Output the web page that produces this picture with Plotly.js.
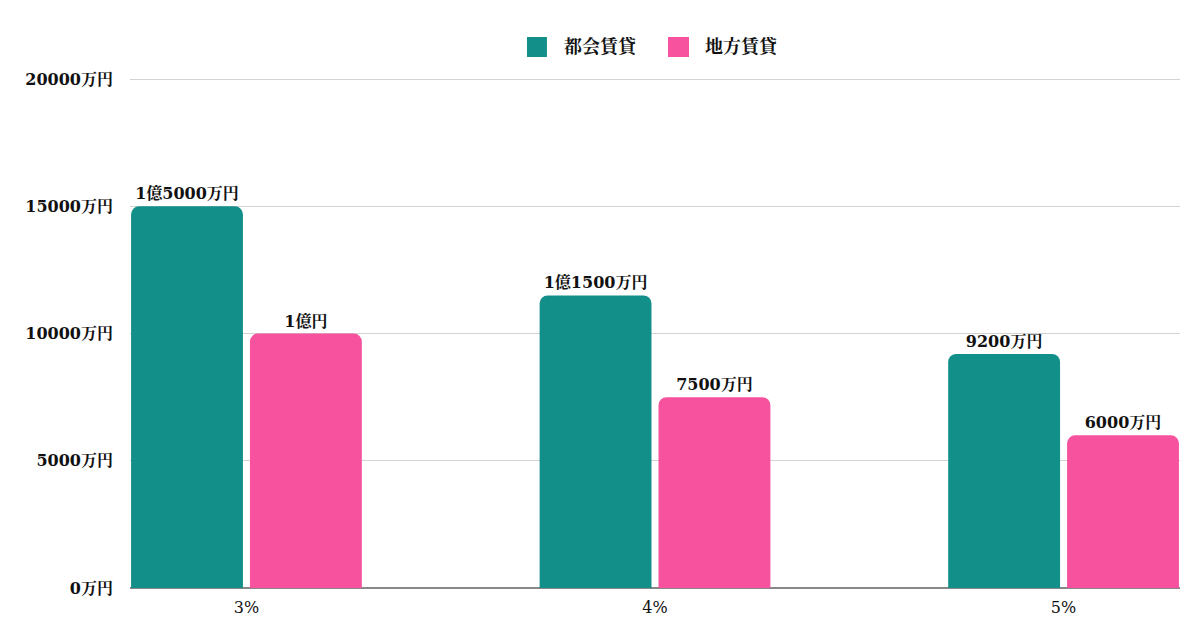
<!DOCTYPE html>
<html>
<head>
<meta charset="utf-8">
<script src="https://cdn.plot.ly/plotly-3.0.1.min.js"></script>
<style>html,body{margin:0;padding:0;background:#fff;}#chart{width:1200px;height:630px;}</style>
</head>
<body>
<div id="chart"></div>
<script>
const categories = ["3%", "4%", "5%"];
const seriesNames = ["都会賃貸", "地方賃貸"];
const seriesColors = ["#138F8A", "#F7529E"];
const urbanValues = [15000, 11500, 9200];
const ruralValues = [10000, 7500, 6000];
const urbanLabels = ["1億5000万円", "1億1500万円", "9200万円"];
const ruralLabels = ["1億円", "7500万円", "6000万円"];
const yTickVals = [0, 5000, 10000, 15000, 20000];
const yTickText = ["0万円", "5000万円", "10000万円", "15000万円", "20000万円"];

const FONT = "'DejaVu Serif', 'Noto Serif CJK JP', 'Noto Sans CJK JP', serif";

const traces = [
  {
    type: "bar", name: seriesNames[0], x: categories, y: urbanValues,
    text: urbanLabels, textposition: "outside", cliponaxis: false,
    textfont: {family: FONT, size: 16, color: "#111", weight: "bold"},
    marker: {color: seriesColors[0]}, hoverinfo: "skip"
  },
  {
    type: "bar", name: seriesNames[1], x: categories, y: ruralValues,
    text: ruralLabels, textposition: "outside", cliponaxis: false,
    textfont: {family: FONT, size: 16, color: "#111", weight: "bold"},
    marker: {color: seriesColors[1]}, hoverinfo: "skip"
  }
];

// custom legend (large square swatches) in paper coordinates
const legendSquares = [[0.3781, 0.3971], [0.5124, 0.5324]];
const legendTextX = [0.4114, 0.5457];
const shapes = legendSquares.map((s, i) => ({
  type: "rect", xref: "paper", yref: "paper",
  x0: s[0], x1: s[1], y0: 1.0412, y1: 1.0804,
  fillcolor: seriesColors[i], line: {width: 0}
}));
const annotations = seriesNames.map((n, i) => ({
  xref: "paper", yref: "paper", x: legendTextX[i], y: 1.0608,
  xanchor: "left", yanchor: "middle", showarrow: false, text: n,
  font: {family: FONT, size: 18, color: "#111", weight: "bold"}
}));

const layout = {
  width: 1200, height: 630,
  margin: {l: 130, r: 20, t: 78, b: 42},
  paper_bgcolor: "#fff", plot_bgcolor: "#fff",
  barmode: "group", bargap: 0.418, bargroupgap: 0.059,
  barcornerradius: 8,
  font: {family: FONT, size: 16, color: "#111"},
  showlegend: false,
  shapes: shapes, annotations: annotations,
  xaxis: {
    type: "category", range: [-0.285, 2.285],
    showgrid: false, zeroline: false, showline: false,
    ticks: "", tickfont: {family: FONT, size: 16, color: "#111"},
    ticklabelstandoff: 8
  },
  yaxis: {
    range: [0, 20045], tickvals: yTickVals, ticktext: yTickText,
    showgrid: true, gridcolor: "#d3d3d3", gridwidth: 1,
    zeroline: true, zerolinecolor: "#888", zerolinewidth: 1.5,
    showline: false, ticks: "",
    tickfont: {family: FONT, size: 16, color: "#111", weight: "bold"},
    ticklabelstandoff: 16
  }
};

Plotly.newPlot("chart", traces, layout, {staticPlot: true, displayModeBar: false});
</script>
</body>
</html>
